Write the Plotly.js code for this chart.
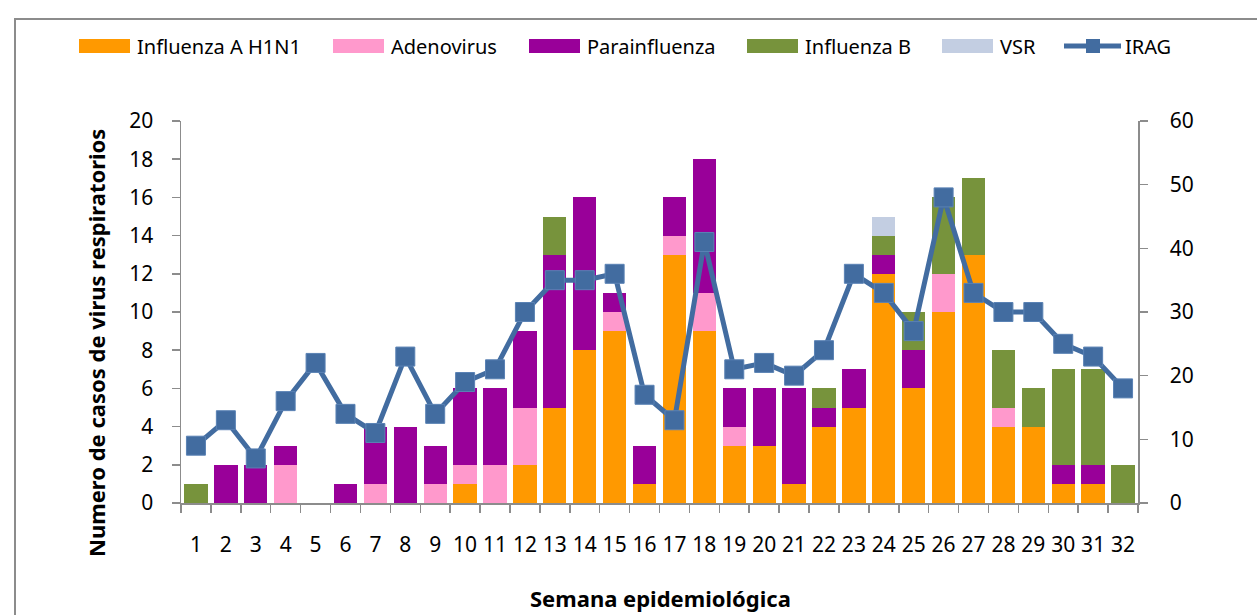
<!DOCTYPE html>
<html>
<head>
<meta charset="utf-8">
<script src="https://cdn.plot.ly/plotly-3.0.1.min.js"></script>
<style>
  html, body { margin: 0; padding: 0; background: #ffffff; overflow: hidden; }
  #chart { width: 1257px; height: 615px; }
</style>
</head>
<body>
<div id="chart"></div>
<script>
// ---- Data ----
const weeks = ['1','2','3','4','5','6','7','8','9','10','11','12','13','14','15','16',
               '17','18','19','20','21','22','23','24','25','26','27','28','29','30','31','32'];
const influenzaAH1N1 = [0,0,0,0,0,0,0,0,0,1,0,2,5,8,9,1,13,9,3,3,1,4,5,12,6,10,13,4,4,1,1,0];
const adenovirus     = [0,0,0,2,0,0,1,0,1,1,2,3,0,0,1,0,1,2,1,0,0,0,0,0,0,2,0,1,0,0,0,0];
const parainfluenza  = [0,2,2,1,0,1,3,4,2,4,4,4,8,8,1,2,2,7,2,3,5,1,2,1,2,0,0,0,0,1,1,0];
const influenzaB     = [1,0,0,0,0,0,0,0,0,0,0,0,2,0,0,0,0,0,0,0,0,1,0,1,2,4,4,3,2,5,5,2];
const vsr            = [0,0,0,0,0,0,0,0,0,0,0,0,0,0,0,0,0,0,0,0,0,0,0,1,0,0,0,0,0,0,0,0];
const irag           = [9,13,7,16,22,14,11,23,14,19,21,30,35,35,36,17,13,41,21,22,20,24,36,33,27,48,33,30,30,25,23,18];

const seriesNames = ['Influenza A H1N1','Adenovirus','Parainfluenza','Influenza B','VSR'];
const lineName = 'IRAG';
const yTicks = [0,2,4,6,8,10,12,14,16,18,20];
const y2Ticks = [0,10,20,30,40,50,60];
const yTitle = 'Numero de casos de virus respiratorios';
const xTitle = 'Semana epidemiológica';

// ---- Styles ----
const barColors = ['#FF9900','#FF99CC','#990099','#77933C','#C3CEE2'];
const lineColor = '#426CA0';
const axisColor = '#8C8C8C';
const FONT = 'Noto Sans, Open Sans, sans-serif';

const barSeries = [influenzaAH1N1, adenovirus, parainfluenza, influenzaB, vsr];
const traces = barSeries.map((vals, i) => ({
  type: 'bar',
  name: seriesNames[i],
  x: weeks,
  y: vals,
  marker: { color: barColors[i], line: { width: 0 } },
  showlegend: false,
  hoverinfo: 'x+y+name'
}));
traces.push({
  type: 'scatter',
  mode: 'lines+markers',
  name: lineName,
  x: weeks,
  y: irag,
  yaxis: 'y2',
  line: { color: lineColor, width: 5 },
  marker: { symbol: 'square', size: 19, color: lineColor, line: { color: '#5A82B4', width: 1 } },
  showlegend: false
});

// plot area in pixels: x 181..1138, y 121..503
const L = 181, R = 1138, T = 121, B = 503;
const px = v => (v - L) / (R - L);
const py = v => (B - v) / (B - T);

// ---- custom legend (wide swatches as in the reference) ----
const shapes = [];
const annotations = [];
const legendY = 46;
const swatchX = [79, 333, 529, 747, 942];
seriesNames.forEach((name, i) => {
  shapes.push({ type: 'rect', xref: 'paper', yref: 'paper', layer: 'above',
    x0: px(swatchX[i]), x1: px(swatchX[i] + 51), y0: py(legendY + 7), y1: py(legendY - 7),
    fillcolor: barColors[i], line: { width: 0 } });
  annotations.push({ xref: 'paper', yref: 'paper', x: px(swatchX[i] + 56), y: py(legendY),
    xanchor: 'left', yanchor: 'middle', showarrow: false, text: name,
    font: { family: FONT, size: 20, color: '#000' } });
});
shapes.push({ type: 'line', xref: 'paper', yref: 'paper', layer: 'above',
  x0: px(1064), x1: px(1121), y0: py(legendY), y1: py(legendY),
  line: { color: lineColor, width: 5 } });
shapes.push({ type: 'rect', xref: 'paper', yref: 'paper', layer: 'above',
  x0: px(1086), x1: px(1100), y0: py(legendY + 7), y1: py(legendY - 7),
  fillcolor: lineColor, line: { width: 0 } });
annotations.push({ xref: 'paper', yref: 'paper', x: px(1123), y: py(legendY),
  xanchor: 'left', yanchor: 'middle', showarrow: false, text: lineName,
  font: { family: FONT, size: 20, color: '#000' } });

// outer frame
shapes.push({ type: 'rect', xref: 'paper', yref: 'paper', layer: 'below',
  x0: px(15), x1: px(1275), y0: py(640), y1: py(19),
  line: { color: '#8C8C8C', width: 2 }, fillcolor: 'rgba(0,0,0,0)' });

// axis titles
annotations.push({ xref: 'paper', yref: 'paper', x: px(96), y: py(343),
  xanchor: 'center', yanchor: 'middle', showarrow: false, textangle: -90, text: yTitle,
  font: { family: FONT, size: 22, color: '#000', weight: 'bold' } });
annotations.push({ xref: 'paper', yref: 'paper', x: px(660), y: py(598),
  xanchor: 'center', yanchor: 'middle', showarrow: false, text: xTitle,
  font: { family: FONT, size: 22, color: '#000', weight: 'bold' } });

const layout = {
  width: 1257, height: 615,
  margin: { l: L, r: 1257 - R, t: T, b: 615 - B, pad: 0 },
  paper_bgcolor: '#ffffff',
  plot_bgcolor: 'rgba(0,0,0,0)',
  barmode: 'stack',
  bargap: 0.22,
  showlegend: false,
  font: { family: FONT, size: 21, color: '#000' },
  xaxis: {
    type: 'category',
    range: [-0.5, weeks.length - 0.5],
    tickson: 'boundaries',
    tickangle: 0,
    ticks: 'outside', ticklen: 8, tickcolor: axisColor, tickwidth: 1.5,
    showline: true, linecolor: axisColor, linewidth: 1.5,
    showgrid: false, zeroline: false,
    ticklabelstandoff: 22,
    tickfont: { family: FONT, size: 21, color: '#000' },
    fixedrange: true
  },
  yaxis: {
    range: [0, 20], tickvals: yTicks,
    ticks: 'outside', ticklen: 8, tickcolor: axisColor, tickwidth: 1.5,
    showline: true, linecolor: axisColor, linewidth: 1.5,
    showgrid: false, zeroline: false,
    ticklabelstandoff: 14,
    tickfont: { family: FONT, size: 21, color: '#000' },
    fixedrange: true
  },
  yaxis2: {
    overlaying: 'y', side: 'right',
    range: [0, 60], tickvals: y2Ticks,
    ticks: 'outside', ticklen: 8, tickcolor: axisColor, tickwidth: 1.5,
    showline: true, linecolor: axisColor, linewidth: 1.5,
    showgrid: false, zeroline: false,
    ticklabelstandoff: 18,
    tickfont: { family: FONT, size: 21, color: '#000' },
    fixedrange: true
  },
  shapes: shapes,
  annotations: annotations
};

Plotly.newPlot('chart', traces, layout, { displayModeBar: false, staticPlot: true });
</script>
</body>
</html>
